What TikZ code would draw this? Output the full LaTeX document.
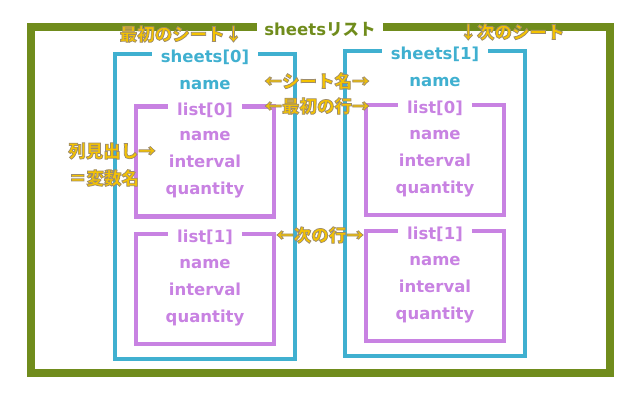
\documentclass[tikz,border=0pt]{standalone}
\usepackage{fontspec}
\setmainfont{DejaVu Sans}
\newfontfamily\jpfont{Noto Sans CJK JP}
\definecolor{listolive}{RGB}{112,140,28}
\definecolor{sheetblue}{RGB}{64,176,208}
\definecolor{rowpurple}{RGB}{200,130,226}
\definecolor{notegold}{RGB}{245,195,0}
% gold text with a thin brown rim
\newcommand{\glow}[1]{\special{pdf:code 2 Tr 0.75 w 0.62 0.55 0.42 RG}#1\special{pdf:code 0 Tr}}

\begin{document}
\begin{tikzpicture}[x=1pt, y=-1pt,
  labelfont/.style={font=\bfseries\fontsize{16.5}{18}\selectfont},
  gaplabel/.style={labelfont, text height=17pt, text depth=0pt, inner ysep=0pt, inner xsep=9pt},
  listframe/.style={draw=listolive, line width=8pt},
  sheetframe/.style={draw=sheetblue, line width=4.5pt},
  rowframe/.style={draw=rowpurple, line width=4.5pt},
  listlabel/.style={gaplabel, text=listolive, inner xsep=7pt},
  sheetlabel/.style={gaplabel, text=sheetblue},
  rowlabel/.style={gaplabel, text=rowpurple},
  fieldlabel/.style={labelfont, anchor=base, inner sep=0pt},
  note/.style={text=notegold, inner sep=0pt, font=\jpfont\bfseries\fontsize{17.5}{19}\selectfont}]

\useasboundingbox (0,0) rectangle (640,400);

% outer list
\node[listlabel] (sheetsList) at (320,26.5) {sheets{\jpfont リスト}};
\draw[listframe] (sheetsList.east) -| (610,373) -| (31,26.5) -- (sheetsList.west);

% one column per sheet
\foreach \s/\cx/\top/\ra/\rb in {0/205/54/106.5/234, 1/435/51/105/231} {
  \node[sheetlabel] (sheet\s) at (\cx,\top) {sheets[\s]};
  \draw[sheetframe] (sheet\s.east) -| (\cx+90,\top+305) -| (\cx-90,\top) -- (sheet\s.west);
  \node[fieldlabel, text=sheetblue] (sheetname\s) at (\cx,\top+35) {name};
  \foreach \r/\y in {0/\ra, 1/\rb} {
    \node[rowlabel] (list\s\r) at (\cx,\y) {list[\r]};
    \draw[rowframe] (list\s\r.east) -| (\cx+69,\y+110) -| (\cx-69,\y) -- (list\s\r.west);
    \node[fieldlabel, text=rowpurple] (name\s\r) at (\cx,\y+34) {name};
    \node[fieldlabel, text=rowpurple] (interval\s\r) at (\cx,\y+61) {interval};
    \node[fieldlabel, text=rowpurple] (quantity\s\r) at (\cx,\y+88) {quantity};
  }
}

% notes
\node[note] (firstSheet) at (181,34) {\glow{最初のシート↓}};
\node[note] (nextSheet) at (512,32) {\glow{↓次のシート}};
\node[note] (sheetName) at (317,81) {\glow{←シート名→}};
\node[note] (firstRow) at (317,106) {\glow{←最初の行→}};
\node[note] (colHead) at (112,151) {\glow{列見出し→}};
\node[note] (varName) at (104,178) {\glow{＝変数名}};
\node[note] (nextRow) at (320,235) {\glow{←次の行→}};

\end{tikzpicture}
\end{document}
